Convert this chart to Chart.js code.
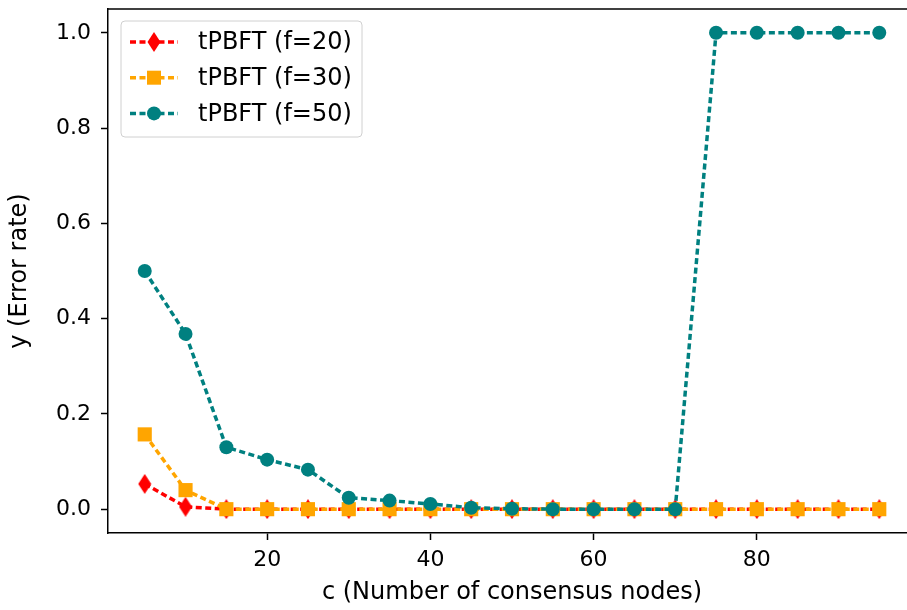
<!DOCTYPE html>
<html lang="en">
<head>
    <meta charset="UTF-8">
    <title>tPBFT error rate</title>
    <script src="https://cdn.jsdelivr.net/npm/chart.js"></script>
    <style>
        html, body { margin: 0; padding: 0; background: #fff; overflow: hidden; }
        #wrap { width: 907px; height: 610px; overflow: hidden; }
        canvas { display: block; }
    </style>
</head>
<body>
    <!-- canvas is wider than the window: the right edge of the plot is cut off like in the original figure -->
    <div id="wrap"><canvas id="errorChart" width="930" height="610"></canvas></div>
    <script>
        // consensus node counts
        const nodes = [5, 10, 15, 20, 25, 30, 35, 40, 45, 50, 55, 60, 65, 70, 75, 80, 85, 90, 95];
        const errF20 = [0.053, 0.005, 0, 0, 0, 0, 0, 0, 0, 0, 0, 0, 0, 0, 0, 0, 0, 0, 0];
        const errF30 = [0.157, 0.04, 0, 0, 0, 0, 0, 0, 0, 0, 0, 0, 0, 0, 0, 0, 0, 0, 0];
        const errF50 = [0.5, 0.368, 0.13, 0.104, 0.083, 0.024, 0.018, 0.011, 0.003, 0.001, 0, 0, 0, 0, 1, 1, 1, 1, 1];
        const xTicks = [20, 40, 60, 80];
        const yTicks = [0, 0.2, 0.4, 0.6, 0.8, 1.0];

        const FONT = 'DejaVu Sans';
        const dash = [6, 3.5];
        const LW = 3.5;

        function thinDiamond(color) {
            const c = document.createElement('canvas');
            c.width = 14; c.height = 20;
            const g = c.getContext('2d');
            g.fillStyle = color;
            g.beginPath();
            g.moveTo(7, 0); g.lineTo(13.5, 10); g.lineTo(7, 20); g.lineTo(0.5, 10);
            g.closePath();
            g.fill();
            return c;
        }
        const diamond = thinDiamond('#ff0000');

        function series(label, values, color, style, radius, order) {
            return {
                label: label,
                data: nodes.map((n, i) => ({ x: n, y: values[i] })),
                borderColor: color,
                backgroundColor: color,
                borderWidth: LW,
                borderDash: dash,
                pointStyle: style,
                pointRadius: radius,
                pointHoverRadius: radius,
                pointBorderWidth: 0,
                pointBackgroundColor: color,
                order: order,
                tension: 0
            };
        }

        // top frame line (left & bottom come from the axes) and the legend box
        const frameAndLegend = {
            id: 'frameAndLegend',
            afterDraw(chart) {
                const { ctx, chartArea: a } = chart;
                ctx.save();
                ctx.strokeStyle = '#000';
                ctx.lineWidth = 1.5;
                ctx.beginPath();
                ctx.moveTo(a.left, a.top);
                ctx.lineTo(a.right, a.top);
                ctx.stroke();

                // legend
                const bx = a.left + 13, by = a.top + 12, bw = 241, bh = 116;
                ctx.beginPath();
                ctx.roundRect(bx, by, bw, bh, 4);
                ctx.fillStyle = 'rgba(255,255,255,0.8)';
                ctx.fill();
                ctx.strokeStyle = '#d0d0d0';
                ctx.lineWidth = 1;
                ctx.stroke();

                ctx.font = '24px "' + FONT + '"';
                ctx.textBaseline = 'middle';
                chart.data.datasets.forEach((ds, i) => {
                    const cy = by + 21 + i * 35.7;
                    const x0 = bx + 9, x1 = bx + 57, cx = (x0 + x1) / 2;
                    ctx.strokeStyle = ds.borderColor;
                    ctx.lineWidth = LW;
                    ctx.setLineDash(dash);
                    ctx.beginPath();
                    ctx.moveTo(x0, cy); ctx.lineTo(x1, cy);
                    ctx.stroke();
                    ctx.setLineDash([]);
                    ctx.fillStyle = ds.borderColor;
                    if (ds.pointStyle === 'circle') {
                        ctx.beginPath(); ctx.arc(cx, cy, 7, 0, Math.PI * 2); ctx.fill();
                    } else if (ds.pointStyle === 'rect') {
                        ctx.fillRect(cx - 7, cy - 7, 14, 14);
                    } else {
                        ctx.drawImage(ds.pointStyle, cx - 7, cy - 10);
                    }
                    ctx.fillStyle = '#000';
                    ctx.fillText(ds.label, bx + 77, cy + 1);
                });
                ctx.restore();
            }
        };

        const ctx = document.getElementById('errorChart').getContext('2d');
        new Chart(ctx, {
            type: 'line',
            data: {
                datasets: [
                    series('tPBFT (f=20)', errF20, '#ff0000', diamond, 8, 3),
                    series('tPBFT (f=30)', errF30, '#ffa500', 'rect', 10, 2),
                    series('tPBFT (f=50)', errF50, '#008080', 'circle', 7, 1)
                ]
            },
            options: {
                responsive: false,
                animation: false,
                layout: { autoPadding: false, padding: { top: 9, right: 14, bottom: 0, left: 0 } },
                plugins: {
                    legend: { display: false },
                    tooltip: { enabled: false }
                },
                scales: {
                    x: {
                        type: 'linear',
                        min: 0.5,
                        max: 99.5,
                        afterFit: s => { s.height = 77; s.paddingLeft = 0; s.paddingRight = 0; },
                        afterBuildTicks: s => { s.ticks = xTicks.map(v => ({ value: v })); },
                        grid: { drawOnChartArea: false, drawTicks: true, tickLength: 7, tickColor: '#000', tickWidth: 1.5 },
                        border: { display: true, color: '#000', width: 1.5 },
                        ticks: { color: '#000', padding: 7, maxRotation: 0, font: { family: FONT, size: 22 } },
                        title: {
                            display: true,
                            text: 'c (Number of consensus nodes)',
                            color: '#000',
                            font: { family: FONT, size: 24 },
                            padding: { top: 0, bottom: 3 }
                        }
                    },
                    y: {
                        min: -0.05,
                        max: 1.05,
                        afterFit: s => { s.width = 108; s.paddingTop = 0; s.paddingBottom = 0; },
                        afterBuildTicks: s => { s.ticks = yTicks.map(v => ({ value: v })); },
                        grid: { drawOnChartArea: false, drawTicks: true, tickLength: 7, tickColor: '#000', tickWidth: 1.5 },
                        border: { display: true, color: '#000', width: 1.5 },
                        ticks: {
                            color: '#000',
                            padding: 10,
                            font: { family: FONT, size: 22 },
                            callback: v => v.toFixed(1)
                        },
                        title: {
                            display: true,
                            text: 'y (Error rate)',
                            color: '#000',
                            font: { family: FONT, size: 24 },
                            padding: { top: 5, bottom: 0 }
                        }
                    }
                }
            },
            plugins: [frameAndLegend]
        });
    </script>
</body>
</html>
